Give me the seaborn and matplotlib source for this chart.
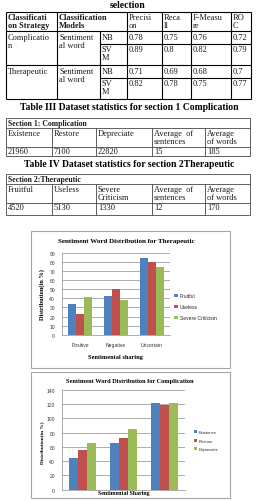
import numpy as np
import pandas as pd
import matplotlib
matplotlib.use("Agg")
import matplotlib.pyplot as plt
import seaborn as sns
from matplotlib.patches import Rectangle

# ---- table data ----
top_caption = "selection"
perf_header = ["Classificati\non Strategy", "Classification\nModels",
               "Precisi\non", "Reca\nll", "F-Measu\nre", "RO\nC"]
strategies = ["Complicatio\nn", "Therapeutic"]
feature_label = "Sentiment\nal word"
models = ["NB", "SV\nM"]
perf_values = [[0.78, 0.75, 0.76, 0.72],
               [0.89, 0.8, 0.82, 0.79],
               [0.71, 0.69, 0.68, 0.7],
               [0.82, 0.78, 0.75, 0.77]]

caption3 = "Table III Dataset statistics for section 1 Complication"
section3 = "Section 1: Complication"
header3 = ["Existence", "Restore", "Depreciate", "Average  of\nsentences", "Average\nof words"]
values3 = ["21960", "7100", "22820", "15", "185"]

caption4 = "Table IV Dataset statistics for section 2Therapeutic"
section4 = "Section 2:Therapeutic"
header4 = ["Fruitful", "Useless", "Severe\nCriticism", "Average  of\nsentences", "Average\nof words"]
values4 = ["4520", "5130", "1330", "12", "170"]

# ---- chart data ----
sharing = ["Positive", "Negative", "Uncertain"]
ther_names = ["Fruitful", "Useless", "Severe Criticism"]
fruitful = [34, 43, 84]
useless = [23, 50, 80]
severe = [42, 38.5, 75]
comp_names = ["Existence", "Restore", "Depreciate"]
existence = [45, 66, 121]
restore = [55.5, 73, 118.5]
depreciate = [66, 84.5, 122]

colors = ["#4F81BD", "#C0504D", "#9BBB59"]

W, H = 257, 502
SERIF = "Liberation Serif"
SANS = "Liberation Sans"
TXT = "#1a1a1a"

sns.set_style("white")
plt.rcParams["font.family"] = [SERIF, "DejaVu Sans"]

fig = plt.figure(figsize=(W / 100, H / 100), dpi=100)
fig.patch.set_facecolor("white")


def px_axes(x0, y0, x1, y1):
    return fig.add_axes([x0 / W, 1 - y1 / H, (x1 - x0) / W, (y1 - y0) / H])


# background axes in pixel coordinates for tables / captions / frames
tab = fig.add_axes([0, 0, 1, 1])
tab.set_xlim(0, W)
tab.set_ylim(H, 0)
tab.axis("off")

def cell_text(x, y, s, bold=False, size=6.0):
    tab.text(x + 2, y + 1.5, s, ha="left", va="top", fontsize=size,
             fontweight="bold" if bold else "normal", color=TXT, linespacing=1.0)

# ---- table II (performance) ----
tab.text(128, 5, top_caption, ha="center", va="center", fontsize=7, fontweight="bold", color="black")
xs = [6, 57, 100, 127, 162, 191, 231, 251]
ys = [13, 32, 45, 66, 79, 100]
lw_t = 0.8
for y in [13, 32, 66, 100]:
    tab.hlines(y, xs[0], xs[-1], color="black", lw=lw_t)
for y in [45, 79]:
    tab.hlines(y, xs[2], xs[-1], color="black", lw=lw_t)
for x in [6, 57, 127, 162, 191, 231, 251]:
    tab.vlines(x, ys[0], ys[-1], color="black", lw=lw_t)
tab.vlines(100, 32, 100, color="black", lw=lw_t)

hx = [6, 57, 127, 162, 191, 231]
for i, (x, s) in enumerate(zip(hx, perf_header)):
    cell_text(x, 13, s, bold=(i < 2))
row = 0
for si, strat in enumerate(strategies):
    top = [32, 66][si]
    cell_text(6, top, strat)
    cell_text(57, top, feature_label)
    for mi, m in enumerate(models):
        rt = top + 13 * mi
        cell_text(100, rt, m)
        for x, v in zip(xs[3:7], perf_values[row]):
            cell_text(x, rt, f"{v:g}")
        row += 1

# ---- table III / IV ----
def stats_table(caption, cy, section, header, values, ys2):
    tab.text(129, cy, caption, ha="center", va="center", fontsize=6.9, fontweight="bold", color="black")
    xs2 = [6, 52, 96, 152, 205, 250]
    for y in ys2:
        tab.hlines(y, xs2[0], xs2[-1], color="#444444", lw=0.6)
    tab.vlines([xs2[0], xs2[-1]], ys2[0], ys2[-1], color="#444444", lw=0.6)
    tab.vlines(xs2[1:-1], ys2[1], ys2[-1], color="#444444", lw=0.6)
    tab.text(xs2[0] + 2, ys2[0] + 1, section, ha="left", va="top", fontsize=5.6,
             fontweight="bold", color=TXT)
    for x, s in zip(xs2[:-1], header):
        cell_text(x, ys2[1] - 0.5, s)
    for x, s in zip(xs2[:-1], values):
        cell_text(x, ys2[2] - 1, s)

stats_table(caption3, 108, section3, header3, values3, [119, 129, 148, 157])
stats_table(caption4, 165, section4, header4, values4, [175, 185, 204, 216])

# ---- chart frames ----
for (x0, y0, x1, y1) in [(31, 232, 230, 369), (31, 373, 230, 499)]:
    tab.add_patch(Rectangle((x0, y0), x1 - x0, y1 - y0, fill=False, ec="#a6a6a6", lw=0.8))


def bar_chart(ax, names, series, ymax, step, show_ticks):
    rows = [(c, n, v) for n, vals in zip(names, series) for c, v in zip(sharing, vals)]
    df = pd.DataFrame(rows, columns=["sharing", "series", "value"])
    sns.barplot(data=df, x="sharing", y="value", hue="series", palette=colors,
                width=0.67, saturation=1, linewidth=0, ax=ax)
    ax.set_ylim(0, ymax)
    ax.set_yticks(np.arange(0, ymax + 1, step))
    ax.set_xlim(-0.5, 2.5)
    ax.yaxis.grid(True, color="#8c8c8c", lw=0.5)
    ax.set_axisbelow(True)
    ax.set_xlabel("")
    ax.set_ylabel("")
    for s in ["top", "right"]:
        ax.spines[s].set_visible(False)
    for s in ["left", "bottom"]:
        ax.spines[s].set_color("#8c8c8c")
        ax.spines[s].set_linewidth(0.5)
    ax.set_xticks([-0.5, 0.5, 1.5, 2.5], minor=True)
    ax.tick_params(axis="x", which="minor", length=2, width=0.5, color="#8c8c8c", direction="out")
    ax.tick_params(axis="x", which="major", length=0, pad=5)
    ax.tick_params(axis="y", length=2, width=0.5, color="#8c8c8c", pad=3, direction="out")
    ax.tick_params(labelsize=3.6, labelcolor="#333333")
    for lab in ax.get_xticklabels() + ax.get_yticklabels():
        lab.set_family(SANS)
    if not show_ticks:
        ax.set_xticklabels([])
    handles, labels = ax.get_legend_handles_labels()
    ax.legend_.remove()
    return handles, labels


# chart 1 : therapeutic
ax1 = px_axes(62, 254, 170, 335.7)
h1, l1 = bar_chart(ax1, ther_names, [fruitful, useless, severe], 90, 10, True)
fig.legend(h1, l1, loc="upper left", bbox_to_anchor=(174 / W, 1 - 294 / H), frameon=False,
           prop={"family": SANS, "size": 3.6}, handlelength=0.7, handleheight=0.7,
           handletextpad=0.4, labelspacing=1.2, borderpad=0, borderaxespad=0)
tab.text(126, 242, "Sentiment Word Distribution for Therapeutic", ha="center", va="center",
         fontsize=5, fontweight="bold", color="black")
tab.text(42, 295, "Distribution(in %)", ha="center", va="center", rotation=90,
         fontsize=4.6, fontweight="bold", color="black")
tab.text(115, 358, "Sentimental sharing", ha="center", va="center",
         fontsize=4.6, fontweight="bold", color="black")

# chart 2 : complication
ax2 = px_axes(62, 390.7, 185, 490.7)
h2, l2 = bar_chart(ax2, comp_names, [existence, restore, depreciate], 140, 20, False)
fig.legend(h2, l2, loc="upper left", bbox_to_anchor=(194 / W, 1 - 431 / H), frameon=False,
           prop={"family": SANS, "size": 3.0}, handlelength=0.7, handleheight=0.7,
           handletextpad=0.4, labelspacing=1.1, borderpad=0, borderaxespad=0)
tab.text(130, 381.5, "Sentiment Word Distribution for Complication", ha="center", va="center",
         fontsize=4.6, fontweight="bold", color="black")
tab.text(42, 443, "Distribution(in %)", ha="center", va="center", rotation=90,
         fontsize=3.8, fontweight="bold", color="black")
tab.text(124, 494, "Sentimental Sharing", ha="center", va="center",
         fontsize=4.2, fontweight="bold", color="black")

fig.savefig("out.png", dpi=100)
